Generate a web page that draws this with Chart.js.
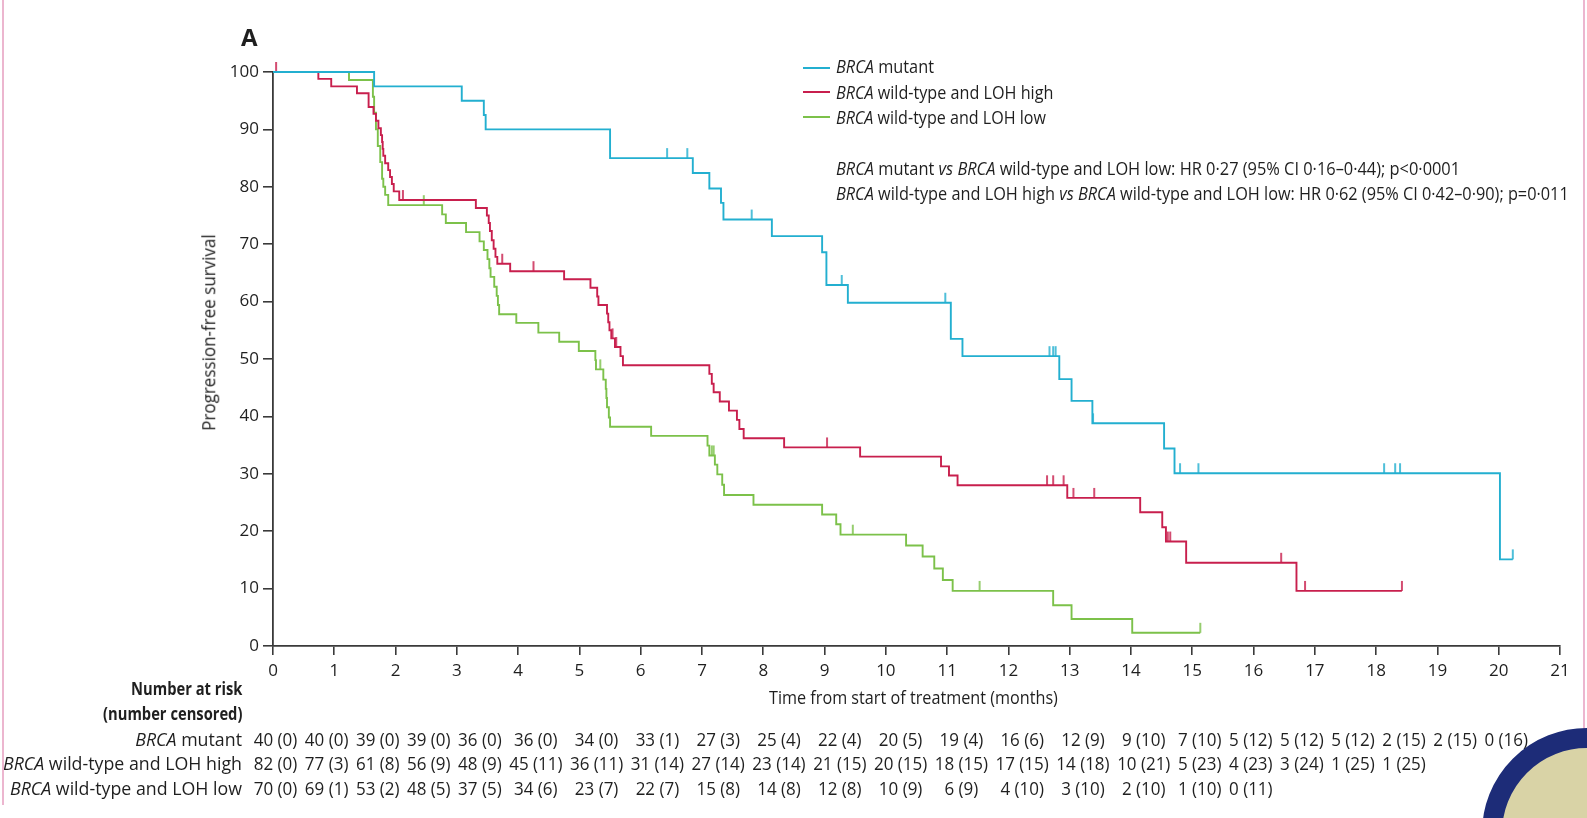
<!DOCTYPE html>
<html><head><meta charset="utf-8">
<script src="https://cdn.jsdelivr.net/npm/chart.js@4.4.1/dist/chart.umd.min.js"></script>
<style>
html,body{margin:0;padding:0;background:#fff;}
#wrap{position:relative;width:1587px;height:818px;overflow:hidden;background:#fff;
  font-family:"Open Sans","Noto Sans",sans-serif;color:#1f1f1f;}
#c{position:absolute;left:0;top:0;}
.t{position:absolute;white-space:nowrap;line-height:1;}
.lg{position:absolute;height:0;border-top:2px solid;}
#risk{position:absolute;border-collapse:collapse;font-size:18px;transform-origin:left top;}
#risk td{padding:0 4px;height:24.5px;line-height:24.5px;text-align:center;white-space:nowrap;}
#rlab{position:absolute;text-align:right;font-size:18px;line-height:24.5px;white-space:nowrap;transform-origin:right center;}
#nar{position:absolute;text-align:right;font-size:18px;line-height:25px;font-weight:bold;white-space:nowrap;transform-origin:right center;}
#seal{position:absolute;left:1482px;top:728px;width:210px;height:210px;border-radius:50%;
  box-sizing:border-box;border:20px solid #1d2c78;background:#d9d3a6;}
</style></head>
<body><div id="wrap">
<canvas id="c" width="1587" height="818"></canvas>
<div class="t" id="panel" style="left:241px;top:25px;font-size:24px;font-weight:bold;">A</div>
<div class="lg" style="left:803px;top:67px;width:27px;border-color:#23afd0"></div>
<div class="lg" style="left:803px;top:91px;width:27px;border-color:#c81f4d"></div>
<div class="lg" style="left:803px;top:116px;width:27px;border-color:#7cc14a"></div>
<div class="t" id="lg1"></div>
<div class="t" id="lg2"></div>
<div class="t" id="lg3"></div>
<div class="t" id="hr1"></div>
<div class="t" id="hr2"></div>
<div class="t" id="ytitle"></div>
<div class="t" id="xtitle"></div>
<div id="nar"></div>
<div id="rlab"></div>
<table id="risk"></table>
<div style="position:absolute;left:2px;top:0;width:2px;height:805px;background:#ecb6cf"></div>
<div style="position:absolute;left:1583px;top:0;width:2px;height:818px;background:#ecb6cf"></div>
<div id="seal"></div>
</div>
<script>
// ---------- data ----------
const seriesNames = ['BRCA mutant', 'BRCA wild-type and LOH high', 'BRCA wild-type and LOH low'];
const comparisons = [
  'BRCA mutant vs BRCA wild-type and LOH low: HR 0·27 (95% CI 0·16–0·44); p<0·0001',
  'BRCA wild-type and LOH high vs BRCA wild-type and LOH low: HR 0·62 (95% CI 0·42–0·90); p=0·011'
];
const yAxisTitle = 'Progression-free survival';
const xAxisTitle = 'Time from start of treatment (months)';
const riskTitle = ['Number at risk', '(number censored)'];

// Kaplan-Meier steps: [time (months), survival after the event (%)]
const mutantSteps = [[0,100],[1.65,97.5],[3.08,95.0],[3.44,92.5],[3.47,90.0],[5.50,85.0],[6.85,82.4],[7.12,79.7],
  [7.31,77.2],[7.35,74.3],[8.14,71.4],[8.96,68.6],[9.03,62.9],[9.38,59.8],[11.06,53.5],[11.25,50.5],[12.83,46.5],
  [13.03,42.7],[13.37,38.8],[14.54,34.4],[14.71,30.1],[20.02,15.1],[20.23,15.1]];
const mutantCensored = [[6.43,85.0],[6.76,85.0],[7.81,74.3],[9.28,62.9],[10.97,59.8],[12.67,50.5],[12.73,50.5],
  [12.77,50.5],[13.38,38.8],[14.80,30.1],[15.10,30.1],[18.13,30.1],[18.31,30.1],[18.39,30.1],[20.23,15.1]];

const lohHighSteps = [[0,100],[0.74,98.8],[0.95,97.5],[1.37,96.3],[1.56,93.9],[1.64,92.7],[1.68,91.5],[1.72,90.2],
  [1.76,89.0],[1.78,87.8],[1.79,86.6],[1.80,85.4],[1.83,84.1],[1.88,82.9],[1.91,81.7],[1.94,80.5],[1.97,79.2],
  [2.06,77.7],[3.31,76.3],[3.49,75.0],[3.52,73.7],[3.54,72.3],[3.57,70.7],[3.60,69.2],[3.63,67.8],[3.66,66.6],
  [3.87,65.3],[4.75,63.9],[5.18,62.4],[5.29,60.9],[5.31,59.4],[5.45,57.9],[5.47,56.4],[5.49,55.0],[5.52,53.6],
  [5.58,52.1],[5.67,50.5],[5.71,48.9],[7.12,47.4],[7.16,45.7],[7.19,44.2],[7.29,42.6],[7.44,41.0],[7.57,39.4],
  [7.61,37.8],[7.68,36.2],[8.34,34.6],[9.58,33.0],[10.90,31.3],[11.03,29.7],[11.17,28.0],[12.96,25.8],[14.15,23.3],
  [14.51,20.7],[14.57,18.2],[14.90,14.5],[16.70,9.6],[18.42,9.6]];
const lohHighCensored = [[0.05,100],[2.12,77.7],[3.74,66.6],[4.25,65.3],[5.54,53.6],[5.60,52.1],[9.04,34.6],
  [12.63,28.0],[12.73,28.0],[12.90,28.0],[13.06,25.8],[13.40,25.8],[14.60,18.2],[14.64,18.2],[16.45,14.5],
  [16.84,9.6],[18.42,9.6]];

const lohLowSteps = [[0,100],[1.24,98.6],[1.63,95.7],[1.65,92.9],[1.68,90.0],[1.71,87.1],[1.75,84.3],[1.78,81.4],
  [1.80,80.0],[1.83,78.6],[1.88,76.8],[2.76,75.2],[2.82,73.7],[3.15,72.1],[3.37,70.5],[3.44,69.0],[3.50,67.4],
  [3.53,65.8],[3.55,64.3],[3.61,62.6],[3.65,61.0],[3.67,59.4],[3.69,57.8],[3.97,56.3],[4.33,54.6],[4.67,53.0],
  [4.99,51.4],[5.26,49.8],[5.27,48.2],[5.39,46.4],[5.43,44.8],[5.44,43.2],[5.45,41.6],[5.48,39.8],[5.50,38.2],
  [6.17,36.6],[7.09,34.9],[7.12,33.2],[7.21,31.6],[7.25,29.9],[7.33,28.1],[7.36,26.3],[7.84,24.6],[8.96,22.9],
  [9.19,21.2],[9.26,19.4],[10.33,17.5],[10.60,15.6],[10.79,13.5],[10.93,11.5],[11.09,9.6],[12.73,7.1],[13.03,4.7],
  [14.02,2.3],[15.13,2.3]];
const lohLowCensored = [[2.46,76.8],[5.34,48.2],[7.16,33.2],[7.19,33.2],[9.46,19.4],[11.53,9.6],[15.13,2.3]];

// Number at risk (number censored)
const riskMutant = ['40 (0)','40 (0)','39 (0)','39 (0)','36 (0)','36 (0)','34 (0)','33 (1)','27 (3)','25 (4)','22 (4)',
  '20 (5)','19 (4)','16 (6)','12 (9)','9 (10)','7 (10)','5 (12)','5 (12)','5 (12)','2 (15)','2 (15)','0 (16)'];
const riskLohHigh = ['82 (0)','77 (3)','61 (8)','56 (9)','48 (9)','45 (11)','36 (11)','31 (14)','27 (14)','23 (14)',
  '21 (15)','20 (15)','18 (15)','17 (15)','14 (18)','10 (21)','5 (23)','4 (23)','3 (24)','1 (25)','1 (25)'];
const riskLohLow = ['70 (0)','69 (1)','53 (2)','48 (5)','37 (5)','34 (6)','23 (7)','22 (7)','15 (8)','14 (8)','12 (8)',
  '10 (9)','6 (9)','4 (10)','3 (10)','2 (10)','1 (10)','0 (11)'];

// ---------- styling ----------
const COLORS = ['#23afd0', '#c81f4d', '#7cc14a'];
const FONT = '"Open Sans","Noto Sans",sans-serif';
const AXIS = '#3a3a3a';
const TEXT = '#1f1f1f';

function italicBRCA(s){ return s.replace(/BRCA/g,'<i>BRCA</i>').replace(/ vs /g,' <i>vs</i> '); }
const $ = id => document.getElementById(id);

// text placement: left / centre x, vertical centre of the capitals, and width in the figure
function place(id, html, o){
  const el = $(id); el.innerHTML = html; el.style.fontSize = o.fs + 'px';
  const w = el.offsetWidth, h = el.offsetHeight;
  const k = o.width / w;
  const top = o.cy - h/2 - 0.031*o.fs;
  if (o.rotate){
    el.style.left = (o.cx - w/2) + 'px'; el.style.top = top + 'px';
    el.style.transformOrigin = 'center center';
    el.style.transform = 'rotate(-90deg) scaleX(' + k + ')';
  } else if (o.cx !== undefined){
    el.style.left = (o.cx - w/2) + 'px'; el.style.top = top + 'px';
    el.style.transformOrigin = 'center center';
    el.style.transform = 'scaleX(' + k + ')';
  } else {
    el.style.left = o.left + 'px'; el.style.top = top + 'px';
    el.style.transformOrigin = 'left center';
    el.style.transform = 'scaleX(' + k + ')';
  }
}
place('lg1', italicBRCA(seriesNames[0]), {left:836, cy:67.5, width:98, fs:19});
place('lg2', italicBRCA(seriesNames[1]), {left:836, cy:92.6, width:217, fs:19});
place('lg3', italicBRCA(seriesNames[2]), {left:836, cy:118, width:210, fs:19});
place('hr1', italicBRCA(comparisons[0]), {left:836, cy:168.8, width:624, fs:19});
place('hr2', italicBRCA(comparisons[1]), {left:836, cy:194.2, width:733, fs:19});
place('ytitle', yAxisTitle, {cx:208.5, cy:333.5, width:197, fs:19, rotate:true});
place('xtitle', xAxisTitle, {cx:913.5, cy:698, width:289, fs:18});

// number-at-risk block
const nar = $('nar'); nar.innerHTML = riskTitle.join('<br>');
{
  const w = nar.offsetWidth; const k = 139 / w;
  nar.style.left = (242 - w) + 'px'; nar.style.top = (689 - 12.5 - 0.031*18) + 'px';
  nar.style.transformOrigin = 'right top'; nar.style.transform = 'scaleX(' + k + ')';
}
const rl = $('rlab'); rl.innerHTML = seriesNames.map(italicBRCA).join('<br>');
{
  const w = rl.offsetWidth; const k = 239 / w;
  rl.style.left = (242 - w) + 'px'; rl.style.top = (739.5 - 12.25 - 0.031*18) + 'px';
  rl.style.transformOrigin = 'right top'; rl.style.transform = 'scaleX(' + k + ')';
}
const tbl = $('risk');
const ncol = Math.max(riskMutant.length, riskLohHigh.length, riskLohLow.length);
[riskMutant, riskLohHigh, riskLohLow].forEach(row=>{
  const tr = document.createElement('tr');
  for(let i=0;i<ncol;i++){ const td=document.createElement('td'); td.textContent = row[i]||''; tr.appendChild(td); }
  tbl.appendChild(tr);
});
{
  const pad = 4, W = tbl.offsetWidth; const k = (1528 - 254) / (W - 2*pad);
  tbl.style.left = (254 - k*pad) + 'px'; tbl.style.top = (739.5 - 12.25 - 0.031*18) + 'px';
  tbl.style.transform = 'scaleX(' + k + ')';
}

function tickMark(color){
  const c = document.createElement('canvas'); c.width = 4; c.height = 22;
  const g = c.getContext('2d'); g.strokeStyle = color; g.lineWidth = 1.6;
  g.beginPath(); g.moveTo(2,1); g.lineTo(2,11); g.stroke(); return c;
}
const toXY = a => a.map(p=>({x:p[0], y:p[1]}));
const curves = [mutantSteps, lohHighSteps, lohLowSteps];
const cens = [mutantCensored, lohHighCensored, lohLowCensored];
const datasets = [];
curves.forEach((s,i)=>datasets.push({label:seriesNames[i], data:toXY(s), showLine:true, stepped:true,
  borderColor:COLORS[i], borderWidth:1.9, pointRadius:0, fill:false, clip:false}));
cens.forEach((s,i)=>datasets.push({label:seriesNames[i]+' censored', data:toXY(s), showLine:false,
  pointStyle:tickMark(COLORS[i]), pointRadius:3, clip:false}));

new Chart($('c'), {
  type:'scatter',
  data:{datasets},
  options:{
    responsive:false, animation:false, devicePixelRatio:1,
    layout:{padding:{left:0, top:72, right:27, bottom:0}},
    plugins:{legend:{display:false}, tooltip:{enabled:false}},
    scales:{
      x:{type:'linear', min:0, max:21,
        afterFit:s=>{ s.height = 172; },
        ticks:{stepSize:1, color:TEXT, padding:6, font:{family:FONT, size:17}},
        grid:{display:true, drawOnChartArea:false, drawTicks:true, tickLength:9, color:AXIS, lineWidth:1.6},
        border:{display:true, color:AXIS, width:1.8}},
      y:{type:'linear', min:0, max:100,
        afterFit:s=>{ s.width = 273; },
        ticks:{stepSize:10, color:TEXT, padding:4, font:{family:FONT, size:17}},
        grid:{display:true, drawOnChartArea:false, drawTicks:true, tickLength:10, color:AXIS, lineWidth:1.6},
        border:{display:true, color:AXIS, width:1.8}}
    }
  }
});
</script>
</body></html>
